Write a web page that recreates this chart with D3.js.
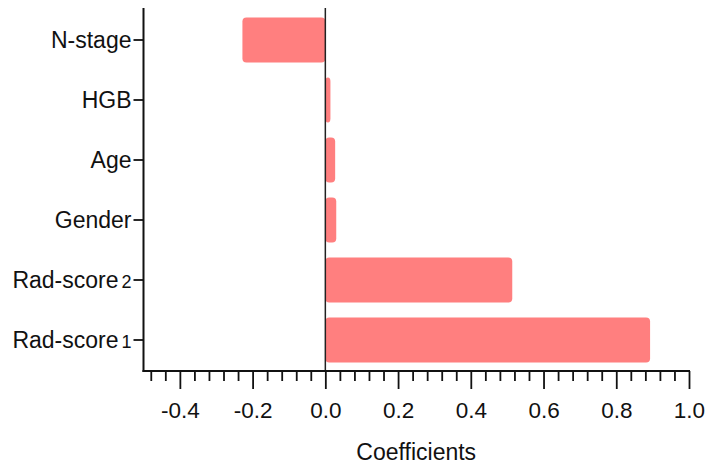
<!DOCTYPE html>
<html lang="en">
<head>
<meta charset="UTF-8" />
<title>Coefficients</title>
<script src="https://d3js.org/d3.v7.min.js"></script>
<style>
  body { margin: 0; background: #fff; }
  svg { display: block; font-family: "Liberation Sans", Arial, sans-serif; }
</style>
</head>
<body>
<svg id="chart" width="708" height="466"></svg>
<script>
// data
const features = ["N-stage", "HGB", "Age", "Gender", "Rad-score2", "Rad-score1"];
const coefs    = [-0.228, 0.014, 0.027, 0.03, 0.514, 0.893];
const majorTicks = [-0.4, -0.2, 0.0, 0.2, 0.4, 0.6, 0.8, 1.0];

const svg = d3.select("#chart");
const mLeft = 143.5, mRight = 689, mTop = 8, mBottom = 371;

const x = d3.scaleLinear().domain([-0.5, 1.0]).range([mLeft, mRight]);
const y = d3.scaleBand().domain(features).range([mTop + 2, mBottom - 1]).paddingInner(0.25).paddingOuter(0.125);

// bars
svg.append("g").selectAll("rect")
  .data(features.map((f, i) => ({ f, v: coefs[i] })))
  .enter().append("rect")
    .attr("x", d => x(Math.min(0, d.v)))
    .attr("y", d => y(d.f))
    .attr("width", d => Math.abs(x(d.v) - x(0)))
    .attr("height", y.bandwidth())
    .attr("rx", 4)
    .attr("fill", "#ff7f7f");

// zero line
svg.append("line")
  .attr("x1", x(0)).attr("x2", x(0))
  .attr("y1", mTop).attr("y2", mBottom)
  .attr("stroke", "#222").attr("stroke-width", 1.5);

// minor ticks every 0.04
const minorTicks = d3.range(-0.48, 1.0, 0.04).filter(v => !majorTicks.some(m => Math.abs(m - v) < 1e-6));

const xg = svg.append("g").attr("transform", `translate(0,${mBottom})`);
xg.append("g")
  .call(d3.axisBottom(x).tickValues(minorTicks).tickSize(10).tickFormat("").tickSizeOuter(0))
  .call(g => g.select(".domain").remove());
xg.append("g")
  .call(d3.axisBottom(x).tickValues(majorTicks).tickSize(18).tickPadding(13)
        .tickFormat(d => d.toFixed(1)).tickSizeOuter(0))
  .call(g => g.select(".domain").remove())
  .call(g => g.selectAll("text").attr("font-size", 22.5).attr("fill", "#111")
               .style("font-family", "'Liberation Sans', Arial, sans-serif"));
xg.selectAll(".tick line").attr("stroke", "#111").attr("stroke-width", 1.8);
xg.append("line")
  .attr("x1", mLeft - 1).attr("x2", mRight + 1)
  .attr("stroke", "#111").attr("stroke-width", 2);

// y axis
const yg = svg.append("g").attr("transform", `translate(${mLeft},0)`);
yg.append("g")
  .call(d3.axisLeft(y).tickSize(10).tickPadding(2).tickFormat("").tickSizeOuter(0))
  .call(g => g.select(".domain").remove())
  .call(g => g.selectAll(".tick line").attr("stroke", "#111").attr("stroke-width", 1.8));
yg.append("line")
  .attr("y1", mTop).attr("y2", mBottom + 1)
  .attr("stroke", "#111").attr("stroke-width", 2);

// y labels with subscript
features.forEach(f => {
  const m = f.match(/^(Rad-score)(\d)$/);
  const t = yg.append("text")
    .attr("x", -12)
    .attr("y", y(f) + y.bandwidth() / 2)
    .attr("dy", "0.36em")
    .attr("text-anchor", "end")
    .attr("font-size", 23)
    .attr("fill", "#111");
  if (m) {
    t.append("tspan").text(m[1]);
    t.append("tspan").attr("dx", 3).attr("font-size", 18).text(m[2]);
  } else {
    t.text(f);
  }
});

// axis title
svg.append("text")
  .attr("x", (mLeft + mRight) / 2)
  .attr("y", 460)
  .attr("text-anchor", "middle")
  .attr("font-size", 23)
  .attr("fill", "#111")
  .text("Coefficients");
</script>
</body>
</html>
